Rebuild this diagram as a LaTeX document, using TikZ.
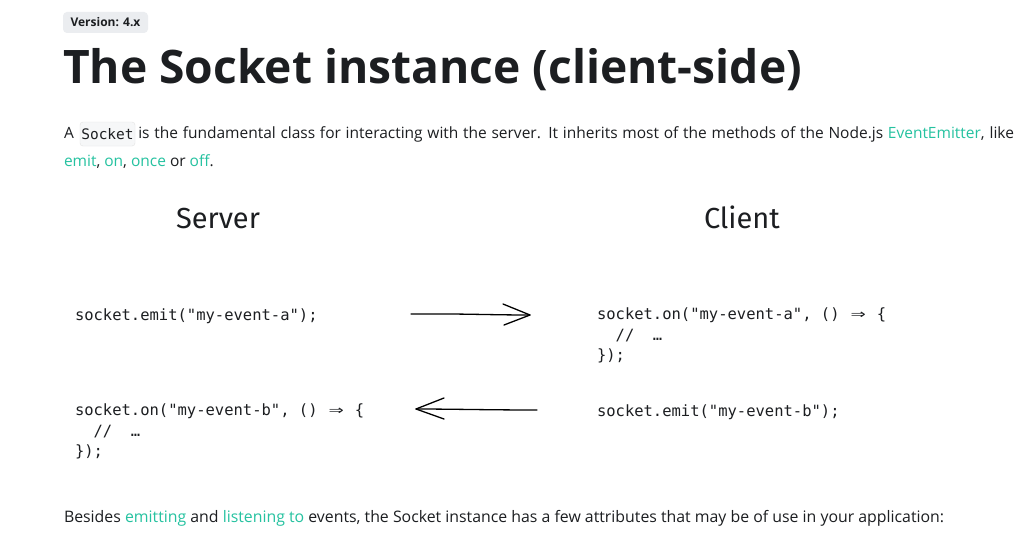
\documentclass[tikz,border=0pt]{standalone}
\usepackage{fontspec}
\setmainfont{Open Sans}
\setmonofont{DejaVu Sans Mono}
\newfontfamily\handfont{Fira Sans}
\newfontfamily\headfont{Open Sans Bold}
\usetikzlibrary{arrows.meta}
\definecolor{txt}{HTML}{1C1E21}
\definecolor{lnk}{HTML}{25C2A0}
\definecolor{badge}{HTML}{EBEDF0}
\definecolor{codebg}{HTML}{F6F7F8}
\definecolor{codeborder}{HTML}{E3E3E3}
\newcommand{\lk}[1]{\textcolor{lnk}{#1}}
\newcommand{\arr}{\makebox[18.7pt]{\scalebox{1.6}[1.1]{⇒}}}
\tikzset{
  every node/.style={inner sep=0pt, outer sep=0pt, text=txt},
  body/.style={anchor=base west, font=\fontsize{15.5}{20}\selectfont},
  code/.style={anchor=base west, font=\fontsize{15.5}{20.5}\selectfont\ttfamily, align=left},
  hand/.style={anchor=base west, font=\fontsize{29}{32}\selectfont\handfont},
  sketch/.style={line width=1.3pt, line cap=round, line join=round, draw=black}
}
\begin{document}
\begin{tikzpicture}[x=1pt,y=-1pt]
\useasboundingbox[fill=white] (0,0) rectangle (1036,543);
% version badge
\node[draw=none, fill=badge, rounded corners=4pt, minimum width=85pt, minimum height=21pt, anchor=north west] (badge) at (63,12) {};
\node[font=\fontsize{12}{14}\selectfont\headfont] (badgetxt) at (badge.center) {Version: 4.x};
% heading
\node[anchor=base west, font=\fontsize{50}{56}\selectfont\headfont] (title) at (63,84) {\resizebox{739pt}{!}{The Socket instance (client-side)}};
% paragraph
\node[draw=codeborder, fill=codebg, rounded corners=3pt, minimum width=55pt, minimum height=24pt, anchor=north west] (sockbox) at (80,122) {};
\node[body] (p1) at (64,138) {\makebox[950pt][s]{A \hspace{55pt} is the fundamental class for interacting with the server. It inherits most of the methods of the Node.js \lk{EventEmitter}, like}};
\node[font=\fontsize{14.5}{16}\selectfont\ttfamily] (socktxt) at (sockbox.center) {Socket};
\node[body] (p2) at (64,166) {\lk{emit}, \lk{on}, \lk{once} or \lk{off}.};
% headers
\node[hand] (server) at (176,228) {Server};
\node[hand] (client) at (704,228) {Client};
% code blocks
\node[code] (emita) at (75,320) {socket.emit("my-event-a");};
\node[code, anchor=north west] (ona) at (597,308) {socket.on("my-event-a", () \arr{} \{\\\ \ //\ \ …\\\});};
\node[code, anchor=north west] (onb) at (75,404) {socket.on("my-event-b", () \arr{} \{\\\ \ //\ \ …\\\});};
\node[code] (emitb) at (597,416) {socket.emit("my-event-b");};
% arrows
\coordinate (a1s) at (411,314);
\coordinate (a1e) at (530,315);
\coordinate (a1u) at (503,304);
\coordinate (a1d) at (504,325);
\draw[sketch] (a1s) .. controls (460,313.5) and (490,315) .. (a1e);
\draw[sketch] (a1u) -- (a1e) -- (a1d);
\coordinate (a2s) at (537,410);
\coordinate (a2e) at (416,409);
\coordinate (a2u) at (444,398);
\coordinate (a2d) at (444,419);
\draw[sketch] (a2s) .. controls (490,410) and (450,409) .. (a2e);
\draw[sketch] (a2u) -- (a2e) -- (a2d);
% final line
\node[body, font=\fontsize{15.85}{20}\selectfont] (p3) at (64,522) {Besides \lk{emitting} and \lk{listening to} events, the Socket instance has a few attributes that may be of use in your application:};
\end{tikzpicture}
\end{document}
